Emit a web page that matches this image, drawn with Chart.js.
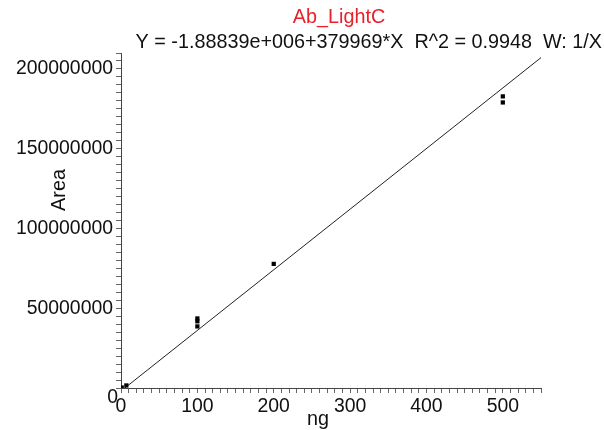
<!DOCTYPE html>
<html>
<head>
<meta charset="utf-8">
<script src="https://cdn.jsdelivr.net/npm/chart.js@4/dist/chart.umd.min.js"></script>
<style>
html,body{margin:0;padding:0;background:#fff;}
#wrap{width:604px;height:430px;}
</style>
</head>
<body>
<div id="wrap"><canvas id="c" width="604" height="430"></canvas></div>
<script>
// data
const amountNg = [1, 7, 100, 100, 100, 200, 500, 500];
const areaValues = [300000, 1600000, 43600000, 41800000, 38600000, 77800000, 182800000, 179000000];
// calibration line endpoints (Y = -1.88839e+006 + 379969*X)
const fitX = [0, 550];
const fitY = [-1888390, 207094560];
const chartTitle = "Ab_LightC";
const chartSubtitle = "Y = -1.88839e+006+379969*X  R^2 = 0.9948  W: 1/X";
const xTitle = "ng";
const yTitle = "Area";
const yZeroLabel = "0";

const FONT = "'Liberation Sans', Arial, sans-serif";

const textPlugin = {
  id: 'texts',
  afterDraw(chart) {
    const ctx = chart.ctx;
    ctx.save();
    ctx.textBaseline = 'middle';
    ctx.textAlign = 'center';
    ctx.fillStyle = '#e8202a';
    ctx.font = '19.8px ' + FONT;
    ctx.fillText(chartTitle, 339, 18);
    ctx.fillStyle = '#111';
    ctx.textAlign = 'right';
    ctx.fillText(chartSubtitle, 602, 43);
    ctx.font = '19.4px ' + FONT;
    ctx.fillText(yZeroLabel, 118, 398);
    ctx.font = '19.8px ' + FONT;
    ctx.textAlign = 'center';
    ctx.fillText(xTitle, 318, 420);
    ctx.translate(60, 190);
    ctx.rotate(-Math.PI / 2);
    ctx.fillText(yTitle, 0, 0);
    ctx.restore();
  }
};

new Chart(document.getElementById('c'), {
  type: 'scatter',
  data: {
    datasets: [
      {
        label: 'points',
        data: amountNg.map((x, i) => ({x: x, y: areaValues[i]})),
        pointStyle: 'rect',
        pointRadius: 3,
        pointBorderWidth: 0,
        backgroundColor: '#000',
        borderColor: '#000'
      },
      {
        type: 'line',
        label: 'fit',
        data: fitX.map((x, i) => ({x: x, y: fitY[i]})),
        borderColor: '#222',
        borderWidth: 1,
        pointRadius: 0,
        fill: false
      }
    ]
  },
  options: {
    responsive: false,
    animation: false,
    layout: {padding: {left: 0, top: 53, right: 63, bottom: 0}},
    plugins: {legend: {display: false}, tooltip: {enabled: false}, title: {display: false}},
    scales: {
      x: {
        type: 'linear',
        min: 0, max: 550,
        afterFit(s) { s.height = 42; },
        border: {display: true, color: '#444', width: 1},
        grid: {drawOnChartArea: false, drawTicks: true, tickLength: 5, tickColor: '#666'},
        ticks: {
          stepSize: 10, autoSkip: false, maxRotation: 0, padding: 2,
          color: '#111', font: {family: FONT, size: 19.4},
          callback: v => (v % 100 === 0 ? String(v) : '')
        }
      },
      y: {
        type: 'linear',
        min: 0, max: 210000000,
        afterFit(s) { s.width = 121; },
        border: {display: true, color: '#444', width: 1},
        grid: {drawOnChartArea: false, drawTicks: true, tickLength: 5, tickColor: '#666'},
        ticks: {
          stepSize: 5000000, autoSkip: false, padding: 3,
          color: '#111', font: {family: FONT, size: 19.4},
          callback: v => (v !== 0 && v % 50000000 === 0 ? String(v) : '')
        }
      }
    }
  },
  plugins: [textPlugin]
});
</script>
</body>
</html>
